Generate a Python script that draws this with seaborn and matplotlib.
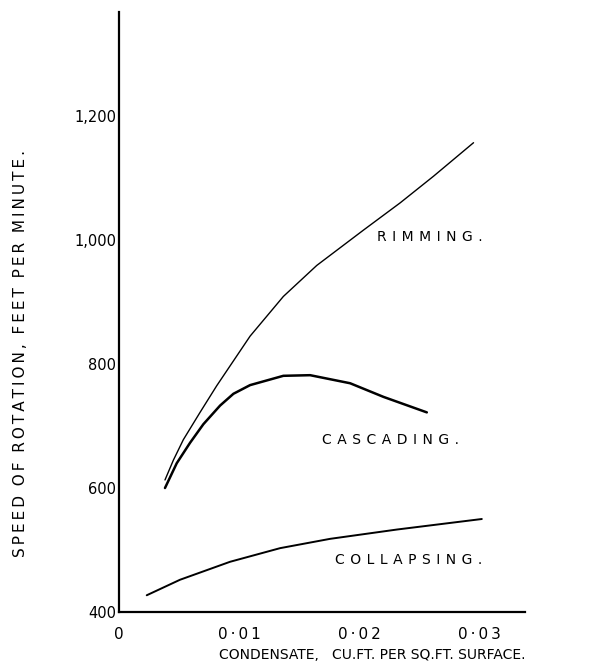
from matplotlib import pyplot as plt
import seaborn as sns
import pandas as pd

sns.set_style('white')
plt.rcParams['font.family'] = ['DejaVu Sans']
plt.rcParams['text.color'] = 'black'

# values
rimming_x = [0.00383, 0.00453, 0.00536, 0.00675, 0.00814, 0.01092, 0.01369, 0.01647,
             0.02036, 0.02342, 0.0262, 0.02953]
rimming_y = [613, 645, 678, 722, 765, 845, 909, 959, 1016, 1060, 1103, 1157]

cascading_x = [0.00383, 0.00481, 0.00592, 0.00703, 0.00842, 0.00953, 0.01092, 0.01369,
               0.01592, 0.01925, 0.02203, 0.02564]
cascading_y = [600, 640, 673, 703, 733, 752, 766, 781, 782, 769, 747, 722]

collapsing_x = [0.00231, 0.00508, 0.00925, 0.01342, 0.01758, 0.02314, 0.03022]
collapsing_y = [427, 452, 481, 503, 518, 533, 550]

xticks = [0, 0.01, 0.02, 0.03]
xtick_labels = ['0', '0\u00b701', '0\u00b702', '0\u00b703']
yticks = [400, 600, 800, 1000, 1200]
ytick_labels = ['400', '600', '800', '1,000', '1,200']

T = '\u2009'


def spaced(s, gap=T):
    # hand lettering is widely spaced
    return gap.join(s)


rim = pd.DataFrame({'x': rimming_x, 'y': rimming_y})
cas = pd.DataFrame({'x': cascading_x, 'y': cascading_y})
col = pd.DataFrame({'x': collapsing_x, 'y': collapsing_y})

fig = plt.figure(figsize=(5.95, 6.69), dpi=100)
ax = fig.add_axes([0.2, 0.0852, 0.682, 0.897])

sns.lineplot(x='x', y='y', data=rim, ax=ax, color='black', linewidth=1.0, estimator=None)
sns.lineplot(x='x', y='y', data=cas, ax=ax, color='black', linewidth=1.8, estimator=None)
sns.lineplot(x='x', y='y', data=col, ax=ax, color='black', linewidth=1.4, estimator=None)

ax.set_xlim(0, 0.0338)
ax.set_ylim(400, 1368)
sns.despine(ax=ax)
for s in ['left', 'bottom']:
    ax.spines[s].set_color('black')
    ax.spines[s].set_linewidth(1.6)

ax.set_xticks(xticks)
ax.set_xticklabels([spaced(t) for t in xtick_labels], fontsize=11)
ax.set_yticks(yticks)
ax.set_yticklabels(ytick_labels, fontsize=10.5)
ax.tick_params(axis='y', direction='in', length=6, width=1.6, pad=2, colors='black')
ax.tick_params(axis='x', direction='in', length=5, width=1.2, pad=11, colors='black')
ax.yaxis.get_major_ticks()[0].tick1line.set_visible(False)
ax.xaxis.get_major_ticks()[0].tick1line.set_visible(False)

ax.set_xlabel('')
ax.set_ylabel('')
fig.text(0.625, 0.011, 'CONDENSATE,   CU.FT. PER SQ.FT. SURFACE.', ha='center', va='bottom',
         fontsize=10)
fig.text(0.035, 0.471, '  '.join(spaced(w) for w in 'SPEED OF ROTATION, FEET PER MINUTE.'.split()),
         rotation=90, ha='center', va='center', fontsize=11)

ax.text(0.0215, 1005, spaced('RIMMING.', T * 2), fontsize=10, va='center', ha='left')
ax.text(0.0169, 677, spaced('CASCADING.', T * 2), fontsize=10, va='center', ha='left')
ax.text(0.018, 484, spaced('COLLAPSING.', T * 2), fontsize=10, va='center', ha='left')

fig.savefig('out.png', dpi=100)
